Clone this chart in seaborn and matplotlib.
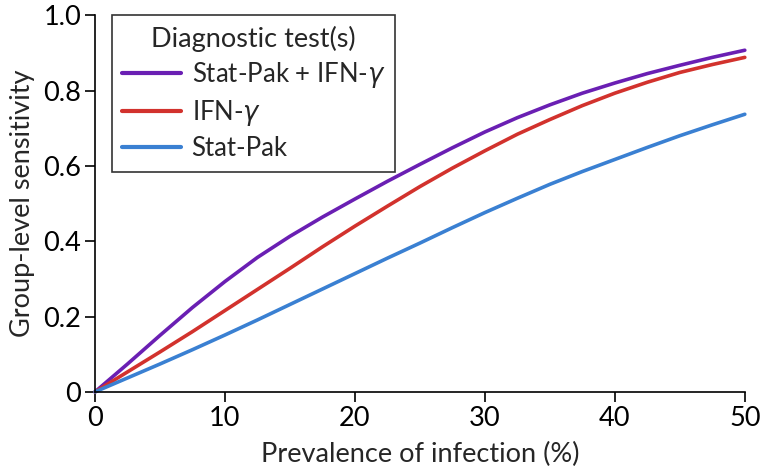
import pandas as pd
import matplotlib
matplotlib.use("Agg")
import matplotlib.pyplot as plt
import seaborn as sns

# --- data ---
prevalence = [0, 2.5, 5, 7.5, 10, 12.5, 15, 17.5, 20, 22.5, 25,
              27.5, 30, 32.5, 35, 37.5, 40, 42.5, 45, 47.5, 50]
combo = [0, 0.074, 0.150, 0.224, 0.293, 0.357, 0.413, 0.464, 0.512, 0.559, 0.604,
         0.648, 0.690, 0.728, 0.762, 0.793, 0.820, 0.845, 0.867, 0.888, 0.907]
ifn = [0, 0.053, 0.106, 0.160, 0.216, 0.272, 0.328, 0.385, 0.440, 0.493, 0.545,
       0.594, 0.640, 0.684, 0.723, 0.760, 0.793, 0.822, 0.848, 0.869, 0.888]
statpak = [0, 0.037, 0.074, 0.112, 0.151, 0.191, 0.232, 0.273, 0.314, 0.355, 0.395,
           0.436, 0.476, 0.514, 0.551, 0.585, 0.617, 0.649, 0.680, 0.709, 0.737]

labels = ["Stat-Pak + IFN-$\\gamma$", "IFN-$\\gamma$", "Stat-Pak"]
colors = ["#6a1fb3", "#d2322d", "#3a80d2"]

n = len(prevalence)
df = pd.DataFrame({
    "Prevalence": prevalence * 3,
    "Sensitivity": combo + ifn + statpak,
    "Test": [labels[0]] * n + [labels[1]] * n + [labels[2]] * n,
})

sns.set_style("white")
plt.rcParams["font.family"] = ["Lato", "DejaVu Sans"]
plt.rcParams["mathtext.fontset"] = "dejavusans"

fig = plt.figure(figsize=(7.6, 4.75), dpi=100)
ax = fig.add_axes([0.125, 0.175, 0.855, 0.793])

sns.lineplot(data=df, x="Prevalence", y="Sensitivity", hue="Test",
             palette=dict(zip(labels, colors)), linewidth=2.6, ax=ax,
             legend=False, clip_on=False)

ax.set_xlim(0, 50)
ax.set_ylim(0, 1.0)
ax.set_xticks([0, 10, 20, 30, 40, 50])
ax.set_yticks([0, 0.2, 0.4, 0.6, 0.8, 1.0])
ax.set_yticklabels(["0", "0.2", "0.4", "0.6", "0.8", "1.0"])
ax.tick_params(axis="both", direction="out", length=7, width=1.2,
               labelsize=19.5, colors="black", left=True, bottom=True, pad=3)
ax.set_xlabel("Prevalence of infection (%)", fontsize=19.5, labelpad=8)
ax.set_ylabel("Group-level sensitivity", fontsize=19.5, labelpad=6)
for s in ["top", "right"]:
    ax.spines[s].set_visible(False)
for s in ["left", "bottom"]:
    ax.spines[s].set_color("black")
    ax.spines[s].set_linewidth(1.2)

handles = [plt.Line2D([], [], color=c, linewidth=3) for c in colors]
leg = ax.legend(handles, labels, title="Diagnostic test(s)", loc="upper left",
                bbox_to_anchor=(0.026, 1.0), borderaxespad=0,
                fontsize=18.5, title_fontsize=19.5,
                frameon=True, fancybox=False, edgecolor="black",
                handlelength=2.3, handletextpad=0.4, borderpad=0.4,
                labelspacing=0.32)
leg.get_frame().set_linewidth(1.2)

fig.savefig("out.png", dpi=100)
